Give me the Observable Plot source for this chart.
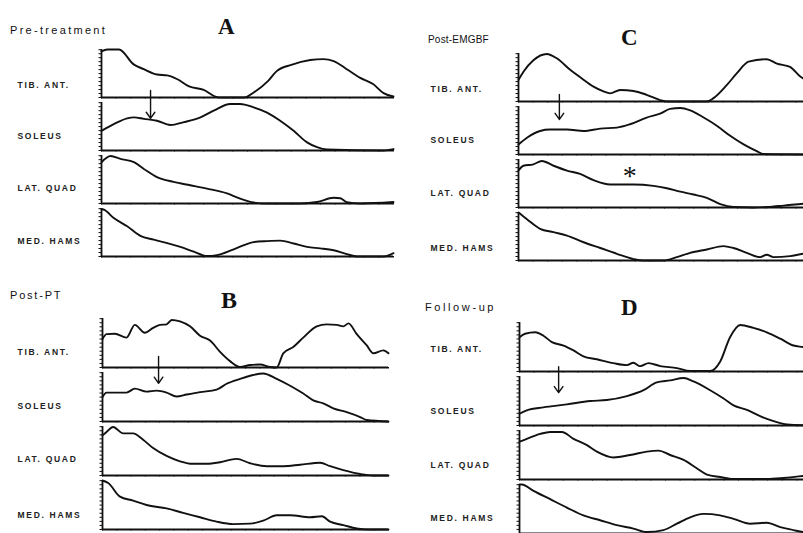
<!DOCTYPE html>
<html>
<head>
<meta charset="utf-8">
<script src="https://cdn.jsdelivr.net/npm/d3@7"></script>
<script src="https://cdn.jsdelivr.net/npm/@observablehq/plot@0.6"></script>
<style>
  body { margin: 0; background: #fff; }
  #fig { position: relative; width: 803px; height: 533px; overflow: hidden; background: #fff; }
  .plot { position: absolute; }
  .plot text { letter-spacing: 1.7px; }
  .cond { position: absolute; font-family: "Liberation Sans", Arial, sans-serif; color: #111; white-space: nowrap; line-height: 1; }
  .letter { position: absolute; font-family: "Liberation Serif", "Times New Roman", serif; font-weight: bold; color: #111; line-height: 1; }
</style>
</head>
<body>
<div id="fig"></div>
<script>
// ---- data (x = % of gait cycle, y = normalised EMG envelope) ----
const muscles = ["TIB. ANT.", "SOLEUS", "LAT. QUAD", "MED. HAMS"];
const panelLetters = ["A", "B", "C", "D"];
const panelTitles = ["Pre-treatment", "Post-PT", "Post-EMGBF", "Follow-up"];

// Panel A: Pre-treatment
const aTib = [[0,0.96],[2,1],[6,1],[11,0.69],[14.5,0.59],[19,0.48],[22.5,0.46],[26,0.38],[30,0.23],[35,0.16],[39,0.02],[41,0],[49,0],[52,0.1],[57,0.34],[60,0.55],[65,0.68],[71.5,0.78],[76,0.8],[79.5,0.76],[84,0.59],[88.6,0.41],[93,0.28],[96.6,0.09],[100,0.02]];
const aSol = [[0,0.41],[4.2,0.55],[8.8,0.67],[11.1,0.69],[14.5,0.66],[19,0.62],[23.6,0.53],[28.2,0.59],[33.9,0.69],[38.4,0.83],[44.1,0.97],[47.5,0.97],[52.1,0.9],[56.7,0.79],[61.2,0.62],[65.8,0.41],[70.4,0.17],[73.8,0.07],[77.2,0.02],[96.6,0],[100,0.03]];
const aLat = [[0,0.86],[3.1,0.99],[6.5,0.93],[11.1,0.86],[14.5,0.72],[19,0.55],[24.7,0.45],[30.4,0.38],[36.1,0.31],[43,0.21],[47.5,0.1],[52.1,0.02],[56.7,0],[68.1,0],[73.8,0.03],[79.5,0.12],[81.8,0.11],[84,0.03],[88.6,0],[100,0.03]];
const aMed = [[0,0.99],[1,0.97],[4.2,0.8],[8.8,0.63],[13.3,0.43],[17.9,0.35],[22.5,0.28],[27,0.2],[31.6,0.1],[36.1,0.01],[39.6,0.03],[45.3,0.15],[52.1,0.3],[56.7,0.32],[61.2,0.33],[65.8,0.27],[70.4,0.2],[74.9,0.17],[79.5,0.13],[84,0.05],[87.5,0],[96.6,0],[100,0.07]];

// Panel B: Post-PT
const bTib = [[0,0.58],[1.4,0.68],[4.3,0.69],[8.4,0.61],[11.3,0.87],[14.8,0.71],[17.7,0.81],[20.1,0.87],[22.4,0.88],[24.2,0.97],[27.1,0.94],[30.6,0.84],[34.1,0.65],[37.6,0.55],[41.1,0.32],[44.6,0.13],[48.1,0.01],[51.6,0.05],[55.1,0.06],[58.6,0.01],[60.9,0],[63.2,0.29],[66.7,0.42],[70.2,0.61],[74.9,0.84],[78.4,0.88],[81.9,0.87],[84.2,0.84],[86,0.9],[88.9,0.68],[92.4,0.45],[94.7,0.29],[98.2,0.35],[100,0.29]];
const bSol = [[0,0.5],[1.4,0.59],[8.4,0.59],[11.3,0.67],[15.4,0.61],[18.9,0.63],[22.4,0.59],[25.9,0.51],[29.4,0.55],[34.1,0.6],[39.9,0.65],[43.4,0.77],[48.1,0.87],[52.7,0.95],[56.2,0.98],[60.9,0.87],[65.6,0.73],[70.2,0.57],[73.7,0.43],[77.2,0.37],[80.7,0.27],[85.4,0.19],[90.1,0.09],[92.4,0.03],[100,0]];
const bLat = [[0,0.82],[1.4,0.89],[3.7,0.99],[7.2,0.86],[10.7,0.86],[14.2,0.73],[17.7,0.56],[22.4,0.4],[27.1,0.29],[30.6,0.24],[36.4,0.24],[41.1,0.27],[46.9,0.34],[51.6,0.25],[57.4,0.19],[63.2,0.19],[69.1,0.22],[76.1,0.26],[79.6,0.19],[84.2,0.11],[90.1,0.03],[94.7,0],[100,0]];
const bMed = [[0,1],[2,0.95],[6.1,0.67],[10.7,0.59],[15.4,0.5],[22.4,0.43],[28.2,0.34],[34.1,0.25],[39.9,0.16],[45.7,0.11],[51.6,0.12],[56.2,0.18],[60.9,0.29],[65.6,0.29],[72.6,0.25],[76.7,0.27],[79.6,0.16],[84.2,0.09],[88.9,0.02],[92.4,0],[100,0]];

// Panel C: Post-EMGBF
const cTib = [[0,0.45],[1.7,0.62],[5.1,0.86],[9.7,0.99],[13.1,0.9],[17.7,0.66],[21.7,0.48],[25.7,0.31],[29.1,0.21],[31.4,0.17],[34.8,0.24],[39.4,0.22],[43.9,0.14],[48.5,0.03],[50.8,0],[64.5,0],[66.8,0.07],[71.3,0.34],[74.8,0.59],[78.8,0.83],[85,0.88],[88.5,0.79],[93,0.72],[96.5,0.52],[100,0.4]];
const cSol = [[0,0.21],[2.9,0.35],[7.4,0.49],[10.8,0.52],[16.6,0.52],[22.3,0.49],[28,0.54],[33.7,0.56],[38.2,0.63],[43.9,0.77],[48.5,0.85],[51.9,0.95],[55.4,0.97],[58.8,0.92],[63.4,0.77],[67.9,0.6],[72.5,0.39],[77.1,0.21],[81.6,0.07],[83.9,0.01],[100,0]];
const cLat = [[0,0.77],[1.7,0.87],[5.1,0.9],[8,0.97],[12,0.87],[16.6,0.77],[21.1,0.7],[25.7,0.57],[31.4,0.48],[39.4,0.48],[46.2,0.45],[50.8,0.4],[55.4,0.33],[59.9,0.27],[64.5,0.2],[69.1,0.07],[73.6,0.01],[80.5,0],[85,0.01],[90.8,0.04],[97.5,0.08],[100,0.09]];
const cMed = [[0,1],[2.9,0.86],[7.4,0.66],[12,0.59],[16.6,0.52],[22.3,0.38],[28,0.26],[33.7,0.14],[39.4,0.03],[42.8,0],[49.7,0],[54.2,0.07],[58.8,0.16],[64.5,0.23],[70.2,0.3],[73.6,0.26],[78.2,0.16],[82.8,0.07],[85,0.12],[87.3,0.07],[93,0.09],[97.5,0.14],[100,0.15]];

// Panel D: Follow-up
const dTib = [[0,0.7],[1.9,0.77],[5.4,0.8],[8.2,0.73],[11.1,0.6],[15.1,0.53],[18.5,0.43],[21.9,0.31],[26.5,0.25],[32.2,0.17],[36.8,0.13],[39,0.18],[41.3,0.11],[44.2,0.17],[48.2,0.11],[53.9,0.07],[58.4,0.01],[65.3,0.01],[68.7,0.2],[72.1,0.7],[75.6,0.95],[80.1,0.89],[84.7,0.8],[89.3,0.67],[93.8,0.53],[97.1,0.5],[100,0.47]];
const dSol = [[0,0.24],[2.5,0.31],[8.2,0.37],[16.2,0.43],[24.2,0.5],[29.9,0.52],[36.8,0.6],[42.5,0.72],[47,0.88],[51.6,0.92],[56.2,0.97],[59.6,0.9],[65.3,0.72],[69.9,0.55],[73.3,0.41],[77.9,0.32],[82.4,0.19],[87,0.09],[91.6,0.02],[100,0]];
const dLat = [[0,0.77],[2.5,0.83],[7.1,0.93],[10.5,0.97],[14.5,0.97],[18.5,0.83],[23.1,0.7],[26.5,0.57],[32.2,0.45],[37.9,0.5],[43.6,0.57],[47.6,0.59],[51.6,0.5],[56.2,0.4],[60.7,0.23],[64.2,0.1],[68.7,0.05],[73.3,0.01],[84.7,0.01],[90.4,0.03],[97.1,0.07],[100,0.08]];
const dMed = [[0,1],[0.8,1],[4.8,0.87],[10.5,0.7],[16.2,0.53],[21.9,0.37],[27.6,0.27],[33.3,0.17],[39,0.1],[43.6,0.03],[49.3,0.07],[53.9,0.2],[58.4,0.33],[63,0.4],[68.7,0.37],[73.3,0.3],[79,0.2],[84.7,0.22],[89.3,0.13],[93.8,0.07],[97.1,0.03],[100,0.02]];

// arrows (x in %, y1/y2 relative to the SOLEUS row) and the asterisk
const arrowX = [16.8, 19.6, 14, 13.4];
const arrowY1 = [1.25, 1.33, 1.25, 1.2];
const arrowY2 = [0.67, 0.78, 0.73, 0.67];
const asterisk = {panel: "C", muscle: "LAT. QUAD", x: 38.4, y: 0.8, text: "*"};

const panelSeries = {
  A: [aTib, aSol, aLat, aMed],
  B: [bTib, bSol, bLat, bMed],
  C: [cTib, cSol, cLat, cMed],
  D: [dTib, dSol, dLat, dMed]
};

// ---- layout (pixels in the 803x533 page) ----
const layout = {
  A: {left: 0,   top: 0,   axisX: 101, plotW: 292, y0: 47,  y1: 257, labelDx: -84, labelDy: [-10,-12,-13,-13],
      title: {x: 10, y: 25, size: 11, ls: 2.3}, letter: {x: 218, y: 15, size: 23}},
  B: {left: 0,   top: 270, axisX: 102, plotW: 286, y0: 317, y1: 529, labelDx: -85, labelDy: [-13,-13,-14,-12],
      title: {x: 10, y: 290, size: 11, ls: 1.8}, letter: {x: 221, y: 288, size: 24}},
  C: {left: 400, top: 0,   axisX: 518, plotW: 292, y0: 52,  y1: 260, labelDx: -88, labelDy: [-10,-12,-12,-10],
      title: {x: 428, y: 35, size: 10, ls: 0.2}, letter: {x: 621, y: 26, size: 23}},
  D: {left: 400, top: 270, axisX: 519, plotW: 292, y0: 322, y1: 533, labelDx: -89, labelDy: [-20,-12,-12,-13],
      title: {x: 425, y: 302, size: 11, ls: 2.6}, letter: {x: 621, y: 296, size: 23}}
};

const fig = document.getElementById("fig");

panelLetters.forEach((P, pi) => {
  const L = layout[P];
  const rows = [];
  panelSeries[P].forEach((series, mi) => {
    series.forEach(([x, y]) => rows.push({muscle: muscles[mi], x, y}));
  });
  const labelRows = muscles.map((m, i) => ({muscle: m, dy: L.labelDy[i]}));

  const marginLeft = L.axisX - L.left;
  const marginTop = L.y0 - L.top;
  const marginRight = 6, marginBottom = 6;
  const width = marginLeft + L.plotW + marginRight;
  const height = marginTop + (L.y1 - L.y0) + marginBottom;

  const marks = [
    Plot.axisY({ticks: d3.range(0, 1.001, 0.083), tickSize: 2.5, tickFormat: () => "", label: null, stroke: "#111", strokeWidth: 1}),
    Plot.axisX({ticks: d3.range(0, 100.1, 5), tickSize: 1.5, tickFormat: () => "", label: null, facetAnchor: null, stroke: "#111", strokeWidth: 1}),
    Plot.ruleY([0], {strokeWidth: 2, stroke: "#111"}),
    Plot.ruleX([0], {strokeWidth: 1.8, stroke: "#111"}),
    Plot.line(rows, {x: "x", y: "y", fy: "muscle", stroke: "#111", strokeWidth: 1.9, curve: "monotone-x"}),
    ...labelRows.map(r => Plot.text([r], {
      fy: "muscle", text: "muscle", frameAnchor: "bottom-left", dx: L.labelDx, dy: r.dy,
      textAnchor: "start", fontSize: 8.5, fontWeight: "bold", fill: "#222",
      fontFamily: "Liberation Sans, Arial, sans-serif"
    })),
    Plot.arrow([{muscle: "SOLEUS", x: arrowX[pi], y1: arrowY1[pi], y2: arrowY2[pi]}], {
      x: "x", y1: "y1", y2: "y2", fy: "muscle", stroke: "#111", strokeWidth: 1.4, headLength: 8, headAngle: 70
    })
  ];
  if (asterisk.panel === P) {
    marks.push(Plot.text([asterisk], {
      x: "x", y: "y", fy: "muscle", text: "text", fontSize: 28, fill: "#111",
      fontFamily: "Liberation Serif, serif", lineAnchor: "middle", dy: 7
    }));
  }

  const chart = Plot.plot({
    width, height, marginLeft, marginTop, marginRight, marginBottom,
    style: {background: "transparent", overflow: "visible"},
    x: {domain: [0, 100], axis: null},
    y: {domain: [0, 1], axis: null},
    fy: {domain: muscles, axis: null, paddingInner: 0.1, paddingOuter: 0},
    marks
  });
  chart.classList.add("plot");
  chart.style.left = L.left + "px";
  chart.style.top = L.top + "px";
  fig.appendChild(chart);

  const t = document.createElement("div");
  t.className = "cond";
  t.textContent = panelTitles[pi];
  t.style.left = L.title.x + "px";
  t.style.top = L.title.y + "px";
  t.style.fontSize = L.title.size + "px";
  t.style.letterSpacing = L.title.ls + "px";
  fig.appendChild(t);

  const lt = document.createElement("div");
  lt.className = "letter";
  lt.textContent = P;
  lt.style.left = L.letter.x + "px";
  lt.style.top = L.letter.y + "px";
  lt.style.fontSize = L.letter.size + "px";
  fig.appendChild(lt);
});
</script>
</body>
</html>
